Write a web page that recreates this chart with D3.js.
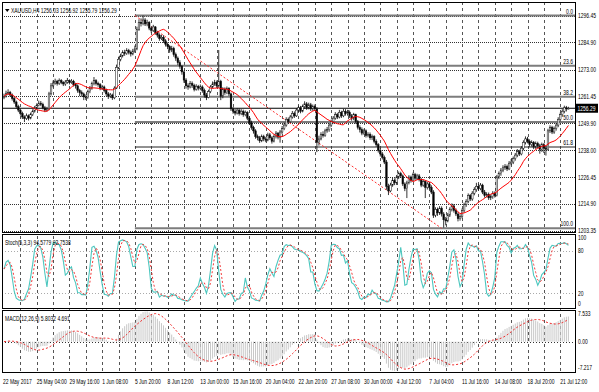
<!DOCTYPE html>
<html>
<head>
  <title>XAUUSD H4</title>
  <style>
    body { margin: 0; background: #fff; }
    svg text {
      font-family: "Liberation Sans", Arial, sans-serif;
      font-size: 7px;
      fill: #000;
    }
  </style>
</head>
<body>
  <svg id="chart"></svg>

  <script src="https://d3js.org/d3.v7.min.js"></script>
  <script>
    // H4 bars from 22 May 2017, one value per bar (8 bars per row = one grid cell)
    const closes = [
      1261.5, 1262.8, 1263.2, 1262.0, 1260.5, 1259.0, 1257.0, 1255.5,
      1254.0, 1252.5, 1251.8, 1253.0, 1252.0, 1253.5, 1255.0, 1256.5,
      1257.5, 1258.5, 1258.0, 1256.5, 1255.5, 1256.0, 1262.5, 1266.0,
      1267.2, 1268.0, 1267.0, 1268.3, 1267.5, 1266.8, 1267.6, 1268.2,
      1267.5, 1268.0, 1266.5, 1266.0, 1264.0, 1263.0, 1262.5, 1261.2,
      1261.0, 1263.5, 1265.0, 1267.0, 1268.2, 1267.0, 1266.5, 1265.0,
      1265.5, 1264.0, 1262.5, 1261.5, 1262.0, 1260.8, 1265.0, 1274.0,
      1277.5, 1279.0, 1280.5, 1280.0, 1281.2, 1280.5, 1279.8, 1281.0,
      1282.0, 1290.5, 1293.5, 1293.0, 1294.5, 1292.8, 1293.5, 1291.0,
      1290.0, 1291.5, 1289.0, 1288.0, 1286.5, 1287.0, 1285.5, 1284.0,
      1283.0, 1281.5, 1282.2, 1279.5, 1278.0, 1276.0, 1274.5, 1272.0,
      1268.5, 1266.0, 1265.5, 1267.0, 1266.2, 1264.5, 1265.8, 1265.0,
      1265.5, 1264.0, 1262.0, 1261.0, 1263.5, 1265.5, 1266.8, 1267.5,
      1266.0, 1268.0, 1261.5, 1264.5, 1263.0, 1264.8, 1262.5, 1256.0,
      1255.0, 1254.2, 1255.5, 1254.0, 1255.0, 1253.5, 1254.5, 1252.0,
      1250.0, 1248.0, 1246.5, 1244.0, 1243.5, 1242.2, 1244.0, 1243.0,
      1242.5, 1244.8, 1243.5, 1242.0, 1244.0, 1245.5, 1243.8, 1246.0,
      1247.5, 1249.0, 1251.5, 1250.5, 1252.5, 1254.0, 1253.0, 1255.5,
      1256.5, 1255.0, 1257.0, 1258.2, 1256.5, 1257.8, 1256.0, 1257.0,
      1256.0, 1241.5, 1243.0, 1245.0, 1244.5, 1246.5, 1247.0, 1249.0,
      1250.5, 1252.0, 1253.5, 1252.5, 1254.5, 1253.0, 1255.0, 1254.0,
      1254.5, 1253.0, 1252.0, 1253.5, 1250.5, 1248.0, 1247.0, 1245.5,
      1246.5, 1244.5, 1245.0, 1243.5, 1244.0, 1242.0, 1240.5, 1238.0,
      1236.5, 1235.0, 1233.0, 1222.5, 1220.5, 1223.0, 1225.0, 1224.0,
      1226.5, 1228.0, 1227.0, 1223.5, 1221.5, 1224.0, 1226.5, 1225.0,
      1227.5, 1226.0, 1227.0, 1225.5, 1223.0, 1224.5, 1222.0, 1223.5,
      1222.0, 1220.0, 1210.0, 1212.5, 1211.0, 1213.0, 1210.5, 1208.0,
      1207.5, 1210.0, 1212.5, 1214.0, 1212.0, 1210.5, 1208.5, 1209.5,
      1212.0, 1214.5, 1216.0, 1218.5, 1217.0, 1219.5, 1221.0, 1222.5,
      1221.5, 1223.0, 1220.0, 1218.5, 1219.0, 1217.5, 1218.0, 1219.5,
      1218.5, 1226.5, 1228.0, 1229.5, 1230.5, 1231.0, 1230.0, 1232.5,
      1233.0, 1234.5, 1236.0, 1237.5, 1236.5, 1239.0, 1241.5, 1243.0,
      1242.0, 1240.5, 1241.5, 1239.5, 1241.0, 1240.0, 1238.5, 1240.5,
      1239.0, 1238.5, 1246.5, 1248.0, 1246.0, 1247.5, 1249.0, 1251.5,
      1253.5, 1255.0, 1256.5, 1256.03, 1256.29
    ];
    const highs = [
      1262.6, 1263.9, 1264.5, 1263.8, 1262.7, 1261.2, 1259.6, 1257.8,
      1256.2, 1254.8, 1253.2, 1254.0, 1253.6, 1254.4, 1255.8, 1257.3,
      1258.4, 1259.6, 1259.4, 1258.7, 1257.3, 1256.9, 1263.4, 1267.2,
      1268.3, 1269.1, 1268.6, 1269.2, 1268.9, 1268.0, 1268.5, 1269.4,
      1268.8, 1268.9, 1268.6, 1267.3, 1266.6, 1264.7, 1264.0, 1263.1,
      1262.2, 1264.3, 1265.9, 1267.8, 1269.8, 1268.9, 1267.8, 1267.2,
      1266.4, 1266.1, 1264.8, 1263.3, 1262.9, 1262.6, 1265.8, 1275.2,
      1278.6, 1279.9, 1281.4, 1281.6, 1282.3, 1282.0, 1281.3, 1282.0,
      1283.4, 1291.6, 1294.8, 1295.2, 1296.45, 1295.3, 1294.6, 1294.0,
      1291.6, 1292.4, 1291.9, 1289.8, 1288.7, 1288.1, 1287.9, 1286.2,
      1284.8, 1283.6, 1283.3, 1282.9, 1280.4, 1278.7, 1277.1, 1275.0,
      1272.6, 1269.3, 1267.1, 1268.1, 1267.9, 1266.9, 1266.7, 1266.4,
      1266.6, 1266.2, 1264.8, 1262.9, 1264.3, 1266.3, 1267.9, 1268.6,
      1268.3, 1281.5, 1268.6, 1265.4, 1265.3, 1265.7, 1265.4, 1263.1,
      1256.8, 1256.0, 1256.4, 1256.3, 1255.9, 1255.7, 1255.3, 1255.0,
      1252.8, 1250.9, 1248.7, 1247.2, 1244.9, 1244.3, 1244.9, 1244.8,
      1243.9, 1245.7, 1245.6, 1244.2, 1244.9, 1246.4, 1246.0, 1246.9,
      1248.6, 1250.1, 1252.4, 1252.3, 1253.4, 1255.1, 1254.9, 1256.4,
      1257.4, 1257.3, 1257.9, 1259.3, 1259.0, 1258.7, 1258.6, 1257.9,
      1257.9, 1256.8, 1244.4, 1245.9, 1246.3, 1247.4, 1248.2, 1249.9,
      1251.4, 1252.9, 1254.6, 1254.3, 1255.6, 1255.2, 1256.0, 1255.9,
      1255.6, 1255.3, 1253.8, 1254.3, 1253.9, 1251.2, 1248.9, 1248.0,
      1247.4, 1247.1, 1245.9, 1245.8, 1244.9, 1244.6, 1242.8, 1241.2,
      1238.9, 1237.3, 1235.8, 1233.9, 1223.6, 1224.0, 1226.2, 1225.9,
      1227.4, 1228.9, 1228.8, 1227.6, 1224.2, 1224.9, 1227.3, 1227.1,
      1228.4, 1228.3, 1227.9, 1227.8, 1226.1, 1225.4, 1225.1, 1224.4,
      1224.3, 1222.9, 1220.8, 1213.4, 1213.3, 1213.9, 1213.8, 1211.3,
      1209.2, 1210.9, 1213.4, 1215.1, 1214.8, 1212.9, 1211.3, 1210.4,
      1212.9, 1215.4, 1216.9, 1219.4, 1219.2, 1220.4, 1222.1, 1224.0,
      1223.6, 1223.9, 1223.6, 1220.9, 1219.9, 1219.8, 1218.9, 1220.4,
      1220.3, 1227.4, 1228.9, 1230.4, 1231.6, 1232.1, 1231.9, 1233.4,
      1234.3, 1235.4, 1236.9, 1238.6, 1238.3, 1239.9, 1242.4, 1244.1,
      1243.9, 1242.8, 1242.4, 1242.1, 1241.9, 1241.8, 1240.9, 1241.4,
      1241.2, 1240.1, 1247.4, 1248.9, 1248.7, 1248.4, 1249.9, 1252.4,
      1254.4, 1255.9, 1257.4, 1257.3, 1256.92
    ];
    const lows = [
      1260.2, 1260.9, 1262.0, 1261.3, 1259.6, 1258.2, 1256.1, 1254.6,
      1253.1, 1251.6, 1250.3, 1251.2, 1251.0, 1251.5, 1252.9, 1254.4,
      1256.0, 1257.1, 1257.2, 1255.8, 1254.6, 1254.8, 1255.4, 1261.8,
      1265.3, 1266.5, 1266.1, 1266.4, 1266.7, 1265.9, 1266.0, 1266.9,
      1266.6, 1266.9, 1265.7, 1264.8, 1263.0, 1261.5, 1261.3, 1259.8,
      1259.9, 1260.4, 1262.8, 1264.3, 1266.2, 1266.1, 1265.6, 1264.1,
      1264.2, 1263.1, 1261.6, 1260.3, 1260.7, 1259.9, 1260.2, 1264.6,
      1273.2, 1276.6, 1278.3, 1279.0, 1279.4, 1279.6, 1278.7, 1279.2,
      1280.3, 1281.4, 1289.8, 1291.7, 1292.2, 1291.9, 1291.8, 1290.1,
      1289.0, 1289.3, 1288.1, 1286.9, 1285.5, 1285.8, 1284.6, 1283.0,
      1281.9, 1280.3, 1280.6, 1278.6, 1276.8, 1275.0, 1273.4, 1270.8,
      1267.3, 1264.8, 1264.3, 1264.9, 1265.1, 1263.6, 1263.9, 1264.0,
      1264.1, 1263.0, 1260.9, 1259.8, 1260.6, 1262.8, 1264.9, 1266.0,
      1265.1, 1265.2, 1259.8, 1260.6, 1262.1, 1262.4, 1261.6, 1255.1,
      1253.9, 1253.2, 1253.6, 1253.1, 1253.3, 1252.6, 1252.8, 1251.1,
      1249.1, 1247.0, 1245.3, 1243.1, 1242.4, 1241.3, 1241.6, 1242.0,
      1241.6, 1242.0, 1242.6, 1241.0, 1241.5, 1243.2, 1242.8, 1241.4,
      1245.2, 1246.8, 1248.3, 1249.6, 1249.9, 1251.8, 1252.1, 1252.5,
      1254.6, 1254.1, 1254.5, 1256.1, 1255.6, 1255.8, 1255.1, 1255.2,
      1255.1, 1237.3, 1240.1, 1242.4, 1243.6, 1243.9, 1245.7, 1246.1,
      1248.2, 1249.7, 1251.3, 1251.6, 1251.9, 1252.1, 1252.4, 1253.1,
      1253.1, 1252.1, 1250.9, 1251.1, 1249.6, 1247.1, 1245.8, 1244.6,
      1244.8, 1243.6, 1243.7, 1242.6, 1242.5, 1241.1, 1239.6, 1237.1,
      1235.4, 1234.1, 1232.1, 1221.0, 1218.7, 1219.9, 1222.3, 1223.0,
      1223.1, 1225.6, 1226.1, 1222.6, 1220.4, 1217.4, 1223.3, 1224.1,
      1224.6, 1225.1, 1225.2, 1224.6, 1222.1, 1222.3, 1217.4, 1221.1,
      1221.1, 1219.1, 1208.8, 1209.1, 1209.7, 1210.1, 1209.4, 1204.6,
      1205.6, 1206.9, 1209.2, 1211.6, 1211.1, 1209.6, 1207.3, 1207.6,
      1208.6, 1211.1, 1213.6, 1215.2, 1216.1, 1216.2, 1218.6, 1220.1,
      1220.6, 1220.8, 1219.1, 1217.6, 1217.7, 1216.6, 1216.5, 1217.1,
      1217.6, 1218.1, 1225.6, 1227.1, 1228.6, 1229.6, 1229.1, 1229.5,
      1231.6, 1232.1, 1233.6, 1235.1, 1235.6, 1235.9, 1238.1, 1240.6,
      1241.1, 1239.6, 1239.7, 1238.6, 1238.7, 1239.1, 1236.6, 1237.4,
      1236.9, 1235.8, 1238.0, 1245.6, 1245.1, 1245.2, 1246.6, 1248.1,
      1250.6, 1252.6, 1254.1, 1254.9, 1255.79
    ];
    const firstOpen = 1261.0;

    // axis texts
    const priceTicks = [1296.45, 1284.90, 1273.00, 1261.45, 1249.90, 1238.00, 1226.45, 1214.90, 1203.35];
    const timeLabels = ["22 May 2017", "25 May 04:00", "29 May 16:00", "1 Jun 08:00", "5 Jun 20:00",
      "8 Jun 12:00", "13 Jun 00:00", "15 Jun 16:00", "20 Jun 04:00", "22 Jun 20:00", "27 Jun 08:00",
      "30 Jun 00:00", "4 Jul 12:00", "7 Jul 04:00", "11 Jul 16:00", "14 Jul 08:00", "18 Jul 20:00",
      "21 Jul 12:00"];
    const stochTicks = [100, 80, 20, 0];
    const stochLevels = [80, 20];
    const macdTicks = ["7.533", "0.00", "-7.217"];

    // fibonacci tool: anchored at the 5 Jun high and the 7 Jul low
    const fibLevels = ["0.0", "23.6", "38.2", "50.0", "61.8", "100.0"];
    const fibFrom = { bar: 64, price: 1296.45 };
    const fibTo = { bar: 214, price: 1204.3 };

    const symbolTitle = "XAUUSD,H4";
    const lastQuote = ["1256.03", "1256.92", "1255.79", "1256.29"];
    const stochTitle = "Stoch(5,3,3)";
    const stochLast = ["94.5779", "92.7538"];
    const macdTitle = "MACD(12,26,9)";
    const macdLast = ["5.8032", "4.691"];

    const W = 599, H = 392;
    const left = 2, right = 575;
    const mainP = { top: 2, bottom: 232 };
    const stochP = { top: 234, bottom: 307.5 };
    const macdP = { top: 309.5, bottom: 372 };
    const sx = 0.71; // the terminal font is narrow

    const n = closes.length;
    const opens = closes.map((c, i) => i ? closes[i - 1] : firstOpen);

    // indicators, computed from the bars like the terminal does
    const maPeriod = 14;
    const ma = closes.map((c, i) => d3.mean(closes.slice(Math.max(0, i - maPeriod + 1), i + 1)));

    const kRaw = closes.map((c, i) => {
      let num = 0, den = 0;
      for (let j = Math.max(0, i - 2); j <= i; j++) {
        const lo = d3.min(lows.slice(Math.max(0, j - 4), j + 1));
        const hi = d3.max(highs.slice(Math.max(0, j - 4), j + 1));
        num += closes[j] - lo;
        den += hi - lo;
      }
      return den ? num / den * 100 : 50;
    });
    const kSig = kRaw.map((k, i) => d3.mean(kRaw.slice(Math.max(0, i - 2), i + 1)));

    function ema(arr, p) {
      const a = 2 / (p + 1);
      let e = arr[0];
      return arr.map(v => (e = e + a * (v - e)));
    }
    const e12 = ema(closes, 12), e26 = ema(closes, 26);
    const macd = closes.map((c, i) => e12[i] - e26[i]);
    const macdSig = macd.map((m, i) => d3.mean(macd.slice(Math.max(0, i - 8), i + 1)));

    // scales
    const x = d3.scaleLinear().domain([0, n - 1]).range([4, 4 + (n - 1) * 2.045]);
    const y = d3.scaleLinear().domain([1203.35, 1296.45]).range([230.5, 15.5]);
    const yStoch = d3.scaleLinear().domain([0, 100]).range([stochP.bottom, 236.5]);
    const yMacd = d3.scaleLinear().domain([-7.217, 7.533]).range([macdP.bottom, 310]);

    const svg = d3.select("#chart").attr("width", W).attr("height", H);
    svg.append("rect").attr("width", W).attr("height", H).attr("fill", "#fff");

    const defs = svg.append("defs");
    [["clipMain", mainP], ["clipStoch", stochP], ["clipMacd", macdP]].forEach(([id, p]) => {
      defs.append("clipPath").attr("id", id).append("rect")
        .attr("x", left).attr("y", p.top).attr("width", right - left).attr("height", p.bottom - p.top);
    });

    const at = (px, py) => `translate(${px},${py}) scale(${sx},1)`;

    // vertical grid through all three panels
    const gridBars = d3.range(8, n, 8);
    svg.append("g").selectAll("line").data(gridBars).enter().append("line")
      .attr("x1", d => Math.round(x(d)) + 0.5).attr("x2", d => Math.round(x(d)) + 0.5)
      .attr("y1", mainP.top).attr("y2", macdP.bottom)
      .attr("stroke", "#555").attr("stroke-dasharray", "3,3");

    // price grid
    svg.append("g").selectAll("line").data(priceTicks).enter().append("line")
      .attr("x1", left).attr("x2", right)
      .attr("y1", d => Math.round(y(d)) + 0.5).attr("y2", d => Math.round(y(d)) + 0.5)
      .attr("stroke", "#333").attr("stroke-dasharray", "1,1");

    const main = svg.append("g").attr("clip-path", "url(#clipMain)");

    // fibonacci levels
    const fibPrice = lv => fibFrom.price - (fibFrom.price - fibTo.price) * (+lv) / 100;
    main.selectAll(".fib").data(fibLevels).enter().append("line")
      .attr("class", "fib")
      .attr("x1", x(fibFrom.bar)).attr("x2", right)
      .attr("y1", d => y(fibPrice(d))).attr("y2", d => y(fibPrice(d)))
      .attr("stroke", d => d === "61.8" ? "#222" : "#7d7d7d")
      .attr("stroke-width", d => d === "61.8" ? 1 : 2);

    main.append("line")
      .attr("x1", x(fibFrom.bar)).attr("y1", y(fibFrom.price))
      .attr("x2", x(fibTo.bar)).attr("y2", y(fibTo.price))
      .attr("stroke", "#ff3030").attr("stroke-dasharray", "2,2");

    // bid line
    const bid = +lastQuote[3];
    main.append("line")
      .attr("x1", left).attr("x2", right)
      .attr("y1", y(bid)).attr("y2", y(bid))
      .attr("stroke", "#000").attr("stroke-width", 1.2);

    // candles
    const candles = main.append("g").selectAll("g").data(closes).enter().append("g");
    candles.append("line")
      .attr("x1", (d, i) => x(i)).attr("x2", (d, i) => x(i))
      .attr("y1", (d, i) => y(highs[i])).attr("y2", (d, i) => y(lows[i]))
      .attr("stroke", "#111").attr("stroke-width", 0.85);
    candles.append("rect")
      .attr("x", (d, i) => x(i) - 0.8).attr("width", 1.6)
      .attr("y", (d, i) => y(Math.max(opens[i], d)))
      .attr("height", (d, i) => Math.max(0.8, Math.abs(y(opens[i]) - y(d))))
      .attr("fill", (d, i) => d >= opens[i] ? "#fff" : "#000")
      .attr("stroke", "#111").attr("stroke-width", 0.5);

    // moving average
    main.append("path")
      .datum(ma)
      .attr("fill", "none").attr("stroke", "#ff0000").attr("stroke-width", 1)
      .attr("d", d3.line().x((d, i) => x(i)).y(d => y(d)));

    // fib labels, right aligned just above each level
    svg.append("g").selectAll("text").data(fibLevels).enter().append("text")
      .attr("text-anchor", "end")
      .attr("transform", d => at(573, y(fibPrice(d)) - 2))
      .text(d => d);

    // stochastic panel
    svg.append("g").selectAll("line").data(stochLevels).enter().append("line")
      .attr("x1", left).attr("x2", right)
      .attr("y1", d => Math.round(yStoch(d)) + 0.5).attr("y2", d => Math.round(yStoch(d)) + 0.5)
      .attr("stroke", "#aaa").attr("stroke-dasharray", "1,2");
    const stochG = svg.append("g").attr("clip-path", "url(#clipStoch)");
    stochG.append("path").datum(kRaw)
      .attr("fill", "none").attr("stroke", "#4cc7bf").attr("stroke-width", 1.1)
      .attr("d", d3.line().x((d, i) => x(i)).y(d => yStoch(d)));
    stochG.append("path").datum(kSig)
      .attr("fill", "none").attr("stroke", "#f23a3a").attr("stroke-width", 1)
      .attr("stroke-dasharray", "2,2")
      .attr("d", d3.line().x((d, i) => x(i)).y(d => yStoch(d)));

    // macd panel
    svg.append("line")
      .attr("x1", left).attr("x2", right)
      .attr("y1", Math.round(yMacd(0)) + 0.5).attr("y2", Math.round(yMacd(0)) + 0.5)
      .attr("stroke", "#333").attr("stroke-dasharray", "1,2");
    const macdG = svg.append("g").attr("clip-path", "url(#clipMacd)");
    macdG.selectAll(".hist").data(macd).enter().append("line")
      .attr("class", "hist")
      .attr("x1", (d, i) => x(i)).attr("x2", (d, i) => x(i))
      .attr("y1", yMacd(0)).attr("y2", d => yMacd(d))
      .attr("stroke", "#c8c8c8").attr("stroke-width", 1);
    macdG.append("path").datum(macdSig)
      .attr("fill", "none").attr("stroke", "#ee2a2a").attr("stroke-width", 1)
      .attr("stroke-dasharray", "2,2")
      .attr("d", d3.line().x((d, i) => x(i)).y(d => yMacd(d)));

    // panel frames
    const frame = svg.append("g").attr("fill", "none").attr("stroke", "#000");
    [mainP, stochP, macdP].forEach(p => {
      frame.append("rect")
        .attr("x", left + 0.5).attr("y", Math.round(p.top) + 0.5)
        .attr("width", right - left).attr("height", Math.round(p.bottom) - Math.round(p.top));
    });

    // right price scale
    svg.append("g").selectAll("text").data(priceTicks).enter().append("text")
      .attr("transform", d => at(578, y(d) + 2.5))
      .text(d => d.toFixed(2));

    // bid price box
    svg.append("rect")
      .attr("x", 576).attr("y", y(bid) - 4.5).attr("width", 22).attr("height", 9)
      .attr("fill", "#000");
    svg.append("text")
      .attr("transform", at(577.5, y(bid) + 2.5))
      .style("fill", "#fff")
      .text(lastQuote[3]);

    // indicator scales
    const clampY = (v, p) => Math.max(p.top + 6, Math.min(p.bottom - 2, v));
    svg.append("g").selectAll("text").data(stochTicks).enter().append("text")
      .attr("transform", d => at(578, clampY(yStoch(d) + 2.5, stochP)))
      .text(d => d);
    svg.append("g").selectAll("text").data(macdTicks).enter().append("text")
      .attr("transform", d => at(578, clampY(yMacd(+d) + 2.5, macdP)))
      .text(d => d);

    // time axis
    svg.append("g").selectAll("text").data(timeLabels).enter().append("text")
      .attr("transform", (d, i) => at(i ? x(i * 16) : 3, 384))
      .text(d => d);

    // window headers
    svg.append("path").attr("d", "M5,9 L9.5,9 L7.25,12 Z").attr("fill", "#000");
    svg.append("text").attr("transform", at(11, 13))
      .text(symbolTitle + " " + lastQuote.join(" "));
    svg.append("text").attr("transform", at(5, 245))
      .text(stochTitle + " " + stochLast.join(" "));
    svg.append("text").attr("transform", at(5, 320.5))
      .text(macdTitle + " " + macdLast.join(" "));
  </script>
</body>
</html>
